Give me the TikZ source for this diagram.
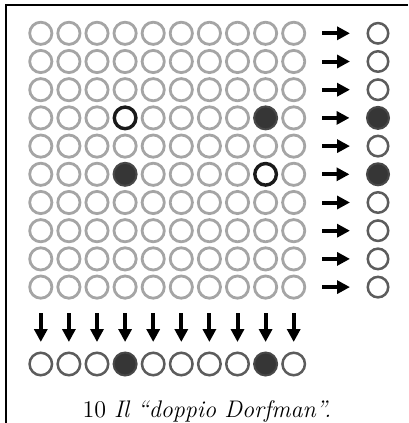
\documentclass[tikz,border=0pt]{standalone}
\usepackage{xcolor}
\usepackage{tikz}
\usetikzlibrary{arrows.meta}
\definecolor{ringgray}{HTML}{A5A5A5}
\definecolor{pooldark}{HTML}{5C5C5C}
\definecolor{hitblack}{HTML}{1A1A1A}
\definecolor{posfill}{HTML}{363636}
\tikzset{
  cellring/.style={circle, draw=ringgray, line width=1.4pt, fill=white,
    minimum size=11.1pt, inner sep=0pt},
  hitring/.style={circle, draw=hitblack, line width=1.7pt, fill=white,
    minimum size=10.8pt, inner sep=0pt},
  posdot/.style={circle, draw=hitblack!80, fill=posfill, line width=1pt,
    minimum size=#1, inner sep=0pt},
  posdot/.default=11.5pt,
  poolring/.style={circle, draw=pooldark, line width=1.25pt, fill=white,
    minimum size=#1, inner sep=0pt},
  poolring/.default=10.25pt,
  sidedot/.style={posdot=11pt},
  basering/.style={poolring=11.25pt},
  rowarrow/.style={-{Triangle[length=6.5pt,width=6.5pt]}, line width=2pt,
    shorten <=7.9pt, shorten >=8.25pt},
  colarrow/.style={-{Triangle[length=6.5pt,width=6.5pt]}, line width=2pt,
    shorten <=6.7pt, shorten >=4.75pt},
}

\begin{document}
\begin{tikzpicture}[x=0.5pt, y=-0.5pt]
  \useasboundingbox (0,0) rectangle (408,423);
  \draw[line width=1.15pt] (6,423) -- (6,5.3) -- (408,5.3);
  \foreach \r in {1,...,10}{
    \foreach \c in {1,...,10}{
      \def\look{cellring}
      \ifnum\r=4 \ifnum\c=4 \def\look{hitring}\fi \ifnum\c=9 \def\look{posdot}\fi\fi
      \ifnum\r=6 \ifnum\c=4 \def\look{posdot}\fi \ifnum\c=9 \def\look{hitring}\fi\fi
      \node[\look] (c-\r-\c) at ({40.8+28.1*(\c-1)},{33.3+28.2*(\r-1)}) {};
    }
    \def\look{poolring}
    \ifnum\r=4 \def\look{sidedot}\fi
    \ifnum\r=6 \def\look{sidedot}\fi
    \node[\look] (r-\r) at (378,{33.3+28.2*(\r-1)}) {};
    \draw[rowarrow] (c-\r-10) -- (r-\r);
  }
  \foreach \c in {1,...,10}{
    \def\look{basering}
    \ifnum\c=4 \def\look{posdot}\fi
    \ifnum\c=9 \def\look{posdot}\fi
    \node[\look] (b-\c) at ({40.8+28.1*(\c-1)},364) {};
    \draw[colarrow] (c-10-\c) -- (b-\c);
  }
  \node[anchor=base, font=\fontsize{12}{14}\selectfont] (caption) at (207,417)
    {10 \textit{Il “doppio Dorfman”.}};
\end{tikzpicture}
\end{document}
